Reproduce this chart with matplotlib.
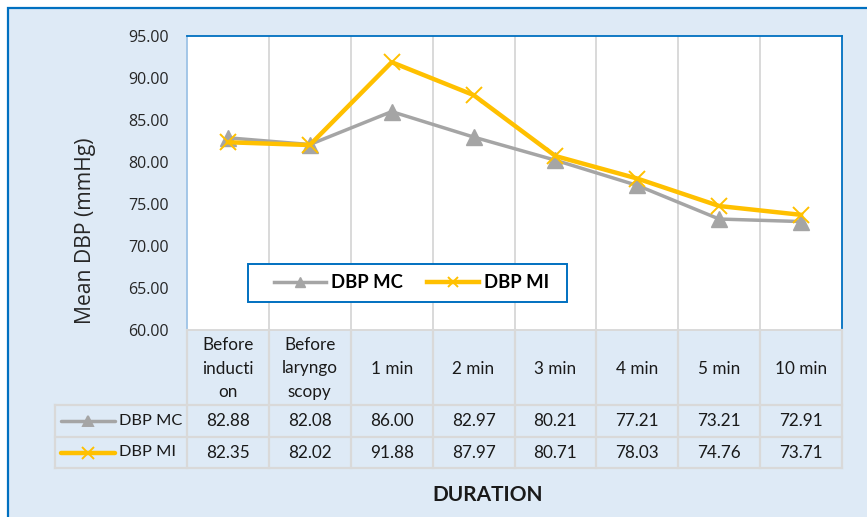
import matplotlib
matplotlib.use("Agg")
import matplotlib.pyplot as plt
from matplotlib.patches import Rectangle
from matplotlib.lines import Line2D

categories = ["Before\ninducti\non", "Before\nlaryngo\nscopy", "1 min", "2 min",
              "3 min", "4 min", "5 min", "10 min"]
dbp_mc = [82.88, 82.08, 86.00, 82.97, 80.21, 77.21, 73.21, 72.91]
dbp_mi = [82.35, 82.02, 91.88, 87.97, 80.71, 78.03, 74.76, 73.71]
series_names = ["DBP MC", "DBP MI"]
y_ticks = [60, 65, 70, 75, 80, 85, 90, 95]

W, H = 867, 517
BG = "#DEEAF6"
BLUE = "#0070C0"
GRID = "#D9D9D9"
GRAY = "#A5A5A5"
GOLD = "#FFC000"

fig = plt.figure(figsize=(W / 100, H / 100), dpi=100)
fig.patch.set_facecolor("white")

def fx(px):
    return px / W

def fy(py):
    return 1 - py / H

# outer chart area
fig.patches.append(Rectangle((fx(8), fy(530)), fx(880) - fx(8), fy(8) - fy(530),
                             transform=fig.transFigure, facecolor=BG,
                             edgecolor=BLUE, lw=1.6, zorder=-10))

# plot area
L, T, R, B = 187, 36, 842, 330
ax = fig.add_axes([fx(L), fy(B), fx(R) - fx(L), fy(T) - fy(B)])
ax.set_facecolor("white")
n = len(categories)
x = list(range(n))
ax.set_xlim(-0.5, n - 0.5)
ax.set_ylim(60, 95)
ax.set_yticks(y_ticks)
ax.set_yticklabels([f"{v:.2f}" for v in y_ticks], fontfamily="Open Sans",
                   fontsize=11.5, color="#262626")
ax.tick_params(axis="y", length=0, pad=13)
ax.set_xticks([])
for k in range(1, n):
    ax.axvline(k - 0.5, color=GRID, lw=1.4, zorder=1)
for s in ["left", "top", "right"]:
    ax.spines[s].set_color(BLUE)
    ax.spines[s].set_linewidth(1.3)
ax.spines["left"].set_color("#9DC3E6")
ax.spines["bottom"].set_color(GRID)
ax.spines["bottom"].set_linewidth(1.4)

l1, = ax.plot(x, dbp_mc, color=GRAY, lw=2.5, marker="^", markersize=11,
              markerfacecolor=GRAY, markeredgecolor=GRAY, zorder=3,
              label=series_names[0])
l2, = ax.plot(x, dbp_mi, color=GOLD, lw=3.2, marker="x", markersize=11,
              markeredgewidth=1.4, markeredgecolor=GOLD, zorder=4,
              label=series_names[1])

ylab = fig.text(fx(85), fy(230.5), "Mean DBP (mmHg)", fontfamily="Open Sans",
                fontsize=14, color="#262626", rotation=90, ha="center", va="center")
renderer = fig.canvas.get_renderer()
ext = ylab.get_window_extent(renderer)
ylab.set_fontsize(14 * 187 / ext.height)

# legend box drawn at exact place, legend content centered in it
fig.patches.append(Rectangle((fx(248), fy(302)), fx(567) - fx(248), fy(264) - fy(302),
                             transform=fig.transFigure, facecolor="white",
                             edgecolor=BLUE, lw=1.4, zorder=5))
leg = fig.legend(handles=[l1, l2], loc="center",
                 bbox_to_anchor=(fx(411.5), fy(283)), ncol=2, frameon=False,
                 prop={"family": "Lato", "weight": "bold", "size": 13.3},
                 handlelength=2.8, handletextpad=0.25, columnspacing=1.35,
                 borderpad=0.3)
leg.set_zorder(6)
for h in leg.legend_handles:
    h.set_markersize(7)

# data table
TL, TT, TB = 55, 330, 468
cell_w = (R - L) / n
tax = fig.add_axes([fx(TL), fy(TB), fx(R) - fx(TL), fy(TT) - fy(TB)])
tax.set_xlim(-0.5 - (L - TL) / cell_w, n - 0.5)
tax.set_ylim(TB - TT, 0)
tax.axis("off")
tax.patch.set_alpha(0)
kx = -0.5 - (L - TL) / cell_w
rows = [0, 75, 107, 138]
for k in range(n + 1):
    tax.plot([k - 0.5, k - 0.5], [0, rows[3]], color=GRID, lw=1.6, clip_on=False)
tax.plot([kx, kx], [rows[1], rows[3]], color=GRID, lw=1.6, clip_on=False)
for r in rows[1:]:
    tax.plot([kx, n - 0.5], [r, r], color=GRID, lw=1.6, clip_on=False)

tfont = dict(fontfamily="Lato", fontsize=12.3, color="#1a1a1a", ha="center", va="center")
for i, c in enumerate(categories):
    tax.text(i, (rows[0] + rows[1]) / 2 + 1, c, linespacing=1.55, **tfont)
    tax.text(i, (rows[1] + rows[2]) / 2, f"{dbp_mc[i]:.2f}", **tfont)
    tax.text(i, (rows[2] + rows[3]) / 2, f"{dbp_mi[i]:.2f}", **tfont)

for vals, name, r0, r1, col, lw, mk, ms in [
        (dbp_mc, series_names[0], rows[1], rows[2], GRAY, 2.5, "^", 7),
        (dbp_mi, series_names[1], rows[2], rows[3], GOLD, 3.2, "x", 8)]:
    yc = (r0 + r1) / 2
    x0 = kx + (61 - TL) / cell_w
    x1 = kx + (115 - TL) / cell_w
    tax.add_line(Line2D([x0, x1], [yc, yc], color=col, lw=lw, clip_on=False,
                        solid_capstyle="round"))
    tax.add_line(Line2D([(x0 + x1) / 2], [yc], marker=mk, markersize=ms,
                        color=col, markeredgewidth=1.4, clip_on=False))
    tax.text(kx + (119 - TL) / cell_w, yc, name, fontfamily="Lato", fontsize=11.8,
             color="#1a1a1a", ha="left", va="center")

fig.text(fx(488), fy(495), "DURATION", fontfamily="Lato", fontweight="bold",
         fontsize=15, color="#1a1a1a", ha="center", va="center")

fig.savefig("out.png", dpi=100)
